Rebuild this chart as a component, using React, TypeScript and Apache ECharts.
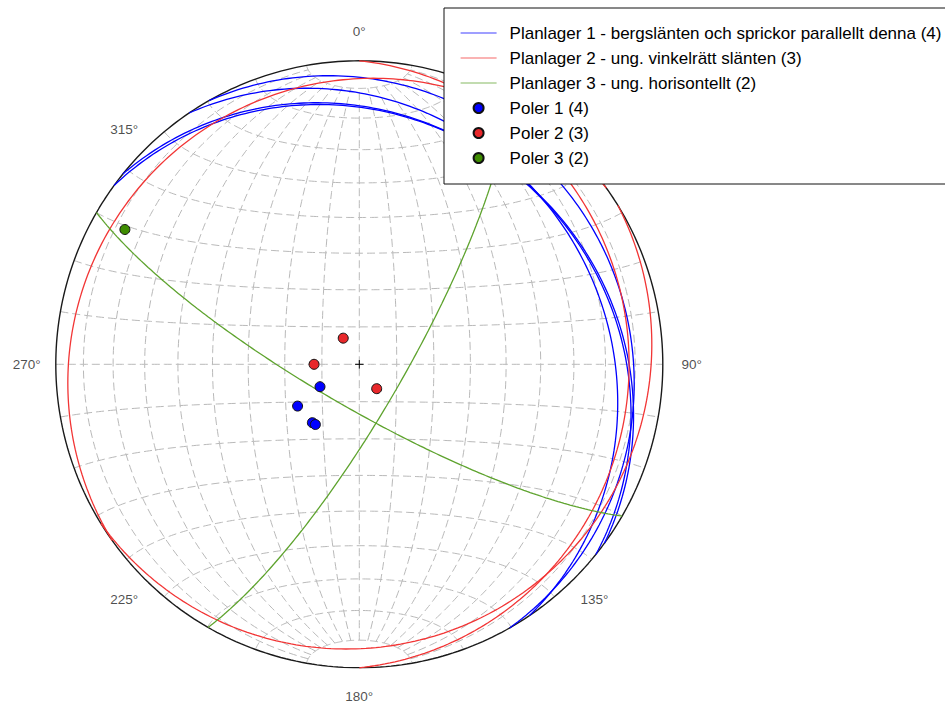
import React, { useEffect, useRef } from "react";
import * as echarts from "echarts";

// ---- data ----
const planeNames = [
  "Planlager 1 - bergslänten och sprickor parallellt denna (4)",
  "Planlager 2 - ung. vinkelrätt slänten (3)",
  "Planlager 3 - ung. horisontellt (2)",
];
const poleNames = ["Poler 1 (4)", "Poler 2 (3)", "Poler 3 (2)"];

// strike (right-hand rule) / dip of each plane
const strikes1 = [330.3, 325.9, 308.8, 306.1];
const dips1 = [12.1, 20.0, 20.1, 20.0];
const strikes2 = [58.4, 0.0, 234.5];
const dips2 = [8.2, 12.1, 8.0];
const strikes3 = [120.0, 29.9];
const dips3 = [78.4, 78.1];

const angleLabels = [0, 90, 135, 180, 225, 270, 315];
const gridLons = [-80, -70, -60, -50, -40, -30, -20, -10, 0, 10, 20, 30, 40, 50, 60, 70, 80];
const gridLats = [-80, -70, -60, -50, -40, -30, -20, -10, 0, 10, 20, 30, 40, 50, 60, 70, 80];

const lineColors = ["#0000ff", "#f23535", "#5ea32e"];
const poleColors = ["#0000ff", "#e8282b", "#3e8c00"];

// ---- projection helpers (equal-area, lower hemisphere) ----
const D = Math.PI / 180;
function proj(n: number, e: number, z: number): number[] {
  const k = 1 / Math.sqrt(1 + z);
  return [e * k, n * k];
}
function greatCircle(strike: number, dip: number): number[][] {
  const s = strike * D;
  const dd = (strike + 90) * D;
  const d = dip * D;
  const sv = [Math.cos(s), Math.sin(s), 0];
  const dv = [Math.cos(d) * Math.cos(dd), Math.cos(d) * Math.sin(dd), Math.sin(d)];
  const pts: number[][] = [];
  for (let t = 0; t <= 180; t += 1) {
    const c = Math.cos(t * D);
    const si = Math.sin(t * D);
    pts.push(proj(c * sv[0] + si * dv[0], c * sv[1] + si * dv[1], Math.max(0, si * dv[2])));
  }
  return pts;
}
function pole(strike: number, dip: number): number[] {
  const tr = (strike - 90) * D;
  const pl = (90 - dip) * D;
  return proj(Math.cos(pl) * Math.cos(tr), Math.cos(pl) * Math.sin(tr), Math.sin(pl));
}
function meridian(lon: number): number[][] {
  const pts: number[][] = [];
  for (let lat = -80; lat <= 80; lat += 1) {
    const l = lon * D, p = lat * D;
    pts.push(proj(Math.sin(p), Math.cos(p) * Math.sin(l), Math.cos(p) * Math.cos(l)));
  }
  return pts;
}
function parallel(lat: number): number[][] {
  const pts: number[][] = [];
  for (let lon = -90; lon <= 90; lon += 1) {
    const l = lon * D, p = lat * D;
    pts.push(proj(Math.sin(p), Math.cos(p) * Math.sin(l), Math.cos(p) * Math.cos(l)));
  }
  return pts;
}

const FONT = "'Liberation Sans', Arial, Helvetica, sans-serif";
const CX = 359.3;
const CY = 364.3;
const R = 303.5;

export default function App() {
  const ref = useRef<HTMLDivElement>(null);
  useEffect(() => {
    if (!ref.current) return;
    const chart = echarts.init(ref.current, null, { renderer: "svg" });
    const series: any[] = [];
    const gridStyle = { color: "#b9b9b9", width: 1, type: [8, 4] };
    gridLons.forEach((lon) =>
      series.push({ type: "line", data: meridian(lon), symbol: "none", silent: true, lineStyle: gridStyle, z: 1 })
    );
    gridLats.forEach((lat) =>
      series.push({ type: "line", data: parallel(lat), symbol: "none", silent: true, lineStyle: gridStyle, z: 1 })
    );
    const prim: number[][] = [];
    for (let a = 0; a <= 360; a += 1) prim.push([Math.sin(a * D), Math.cos(a * D)]);
    series.push({ type: "line", data: prim, symbol: "none", silent: true, lineStyle: { color: "#1a1a1a", width: 1.4 }, z: 2 });

    const groups = [
      [strikes1, dips1],
      [strikes2, dips2],
      [strikes3, dips3],
    ];
    groups.forEach(([ss, ds], gi) => {
      ss.forEach((s, i) => {
        series.push({
          type: "line",
          name: planeNames[gi],
          data: greatCircle(s, ds[i]),
          symbol: "none",
          clip: false,
          lineStyle: { color: lineColors[gi], width: 1.3 },
          itemStyle: { color: lineColors[gi] },
          z: 3,
        });
      });
    });
    groups.forEach(([ss, ds], gi) => {
      series.push({
        type: "scatter",
        name: poleNames[gi],
        data: ss.map((s, i) => pole(s, ds[i])),
        symbol: "circle",
        symbolSize: 10,
        clip: false,
        itemStyle: { color: poleColors[gi], borderColor: "#111", borderWidth: 1, opacity: 1 },
        z: 4,
      });
    });
    // centre cross
    const cs = 0.014;
    series.push({ type: "line", data: [[-cs, 0], [cs, 0]], symbol: "none", silent: true, lineStyle: { color: "#000", width: 1 }, z: 4 });
    series.push({ type: "line", data: [[0, -cs], [0, cs]], symbol: "none", silent: true, lineStyle: { color: "#000", width: 1 }, z: 4 });
    // azimuth labels
    const lr = 332.5 / R;
    series.push({
      type: "scatter",
      data: angleLabels.map((a) => ({ value: [lr * Math.sin(a * D), lr * Math.cos(a * D)], name: a + "°" })),
      symbolSize: 0,
      silent: true,
      clip: false,
      label: {
        show: true,
        position: "inside",
        formatter: (p: any) => p.name,
        fontSize: 13.5,
        fontFamily: FONT,
        color: "#1e1e1e",
      },
      z: 4,
    });

    chart.setOption({
      animation: false,
      backgroundColor: "#fff",
      grid: { left: CX - R, top: CY - R, width: 2 * R, height: 2 * R },
      xAxis: { type: "value", min: -1, max: 1, show: false },
      yAxis: { type: "value", min: -1, max: 1, show: false },
      legend: {
        data: [
          ...planeNames.map((n) => ({ name: n, itemStyle: { opacity: 0 } })),
          ...poleNames.map((n) => ({ name: n })),
        ],
        orient: "vertical",
        left: 444,
        top: 8,
        padding: [16, 12, 17, 16],
        itemWidth: 36,
        itemHeight: 10,
        itemGap: 7,
        backgroundColor: "#fff",
        borderColor: "#111",
        borderWidth: 1,
        selectedMode: false,
        lineStyle: { width: 1.2, opacity: 0.75 },
        textStyle: { fontSize: 17, fontFamily: FONT, color: "#000", lineHeight: 18, padding: [0, 0, 0, 8] },
        z: 10,
      },
      series,
    });
    return () => chart.dispose();
  }, []);
  return (
    <div
      ref={ref}
      style={{ position: "fixed", left: 0, top: 0, width: 945, height: 704, background: "#fff" }}
    />
  );
}
